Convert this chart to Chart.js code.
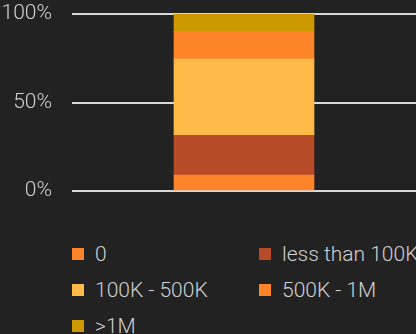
<!DOCTYPE html>
<html>
<head>
<meta charset="utf-8">
<script src="https://cdn.jsdelivr.net/npm/chart.js@4"></script>
<style>
  html, body { margin: 0; padding: 0; background: #222222; overflow: hidden; }
  #c { display: block; }
  #legend {
    position: absolute; left: 72px; top: 236px;
    display: grid; grid-template-columns: 187px 187px; grid-auto-rows: 36px;
    font-family: Roboto, sans-serif; font-weight: 300; font-size: 21px; color: #d0d0d0;
    white-space: nowrap;
  }
  .item { display: flex; align-items: center; }
  .box { width: 12px; height: 12px; margin-right: 11px; flex: none; }
</style>
</head>
<body>
<canvas id="c" width="416" height="200"></canvas>
<div id="legend"></div>
<script>
// Share of entries by range (percent of total)
const categories = [''];
const seriesNames = ['0', 'less than 100K', '100K - 500K', '500K - 1M', '>1M'];
const zeroValues = [9];
const under100kValues = [22.5];
const k100to500Values = [43];
const k500to1mValues = [15.5];
const over1mValues = [10];
const yTicks = [0, 50, 100];

const colors = ['#FF8429', '#B74A27', '#FFBA47', '#FF8429', '#CC9900'];
const seriesValues = [zeroValues, under100kValues, k100to500Values, k500to1mValues, over1mValues];

const datasets = seriesNames.map((name, i) => ({
  label: name,
  data: seriesValues[i],
  backgroundColor: colors[i],
  borderWidth: 0,
  barThickness: 140
}));

const chart = new Chart(document.getElementById('c'), {
  type: 'bar',
  data: { labels: categories, datasets },
  options: {
    responsive: false,
    animation: false,
    layout: { padding: { left: 2, top: 0, right: 0, bottom: 9 } },
    plugins: { legend: { display: false }, tooltip: { enabled: false } },
    scales: {
      x: { stacked: true, display: false },
      y: {
        stacked: true,
        min: 0,
        max: 100,
        afterBuildTicks: (axis) => { axis.ticks = yTicks.map(v => ({ value: v })); },
        // fixed axis box: labels end 20px left of the plot
        afterFit: (axis) => {
          axis.width = 70;
          axis.paddingTop = 14;
          axis.paddingBottom = 0;
        },
        border: { display: false },
        grid: { color: '#d8d8d8', lineWidth: 2, drawTicks: false },
        ticks: {
          padding: 20,
          color: '#d0d0d0',
          font: { family: 'Roboto', weight: 300, size: 21 },
          callback: (v) => v + '%'
        }
      }
    }
  }
});

// HTML legend built from the chart's datasets
const legendEl = document.getElementById('legend');
chart.data.datasets.forEach(ds => {
  const item = document.createElement('div');
  item.className = 'item';
  const box = document.createElement('span');
  box.className = 'box';
  box.style.background = ds.backgroundColor;
  const txt = document.createElement('span');
  txt.textContent = ds.label;
  item.appendChild(box);
  item.appendChild(txt);
  legendEl.appendChild(item);
});
</script>
</body>
</html>
